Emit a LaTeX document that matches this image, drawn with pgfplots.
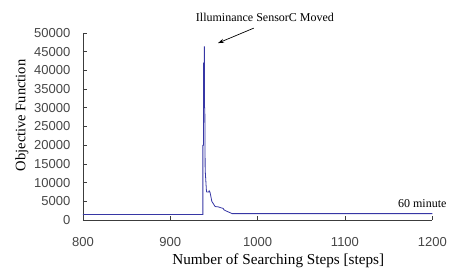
\documentclass[border=0pt]{standalone}
\usepackage{fontspec}
\setmainfont{Liberation Serif}
\newfontfamily\tickfont{Liberation Sans}
\usepackage{pgfplots}
\pgfplotsset{compat=1.18}
\usetikzlibrary{arrows.meta}
\definecolor{linecol}{RGB}{55,55,165}
\definecolor{axcol}{RGB}{60,60,60}
\definecolor{tickcol}{RGB}{70,70,70}
\begin{document}
\begin{tikzpicture}
\useasboundingbox (-83pt,-50pt) rectangle (376pt,220pt);
\begin{axis}[
  scale only axis=true,
  width=349.3pt, height=187pt,
  xmin=800, xmax=1200, ymin=0, ymax=50000,
  axis lines*=left,
  axis line style={axcol, line width=0.7pt},
  tick align=inside,
  major tick length=4pt,
  tick style={axcol, line width=0.7pt},
  xtick={800,900,1000,1100,1200},
  ytick={0,5000,10000,15000,20000,25000,30000,35000,40000,45000,50000},
  scaled y ticks=false, scaled x ticks=false,
  /pgf/number format/set thousands separator={},
  /pgf/number format/assume math mode=true,
  tick label style={font=\tickfont\fontsize{13}{13}\selectfont, text=tickcol, inner sep=0pt},
  yticklabel style={xshift=-12.5pt},
  xticklabel style={yshift=-17pt},
  xlabel={Number of Searching Steps [steps]},
  ylabel={Objective Function},
  x label style={font=\fontsize{15.2}{17}\selectfont, at={(axis description cs:0.559,-0.24)}, anchor=base},
  y label style={font=\fontsize{14.5}{16}\selectfont, at={(axis description cs:-0.175,0.56)}, anchor=center},
  clip=false,
]
\addplot[linecol, line width=0.8pt] coordinates {
(800,1450) (937.3,1450) (937.3,20000) (938,20000) (938,42000) (938.8,42000)
(938.8,46300) (939.2,46300) (939.2,30000) (939.5,30000) (939.9,13400) (941.3,8000)
(941.6,7500) (944,7500) (944.5,7800) (945.5,7400) (947.5,5000) (951.3,3600)
(955,3500) (957.5,3300) (960.5,3100) (961.5,2700) (965,2300) (968,2000)
(970.8,1700) (1200,1700)
};
\node[font=\fontsize{12}{14}\selectfont, anchor=base] at (axis cs:1008.4,52950) {Illuminance SensorC Moved};
\draw[-{Stealth[length=6pt,width=4pt]}, line width=0.7pt, black] (axis cs:995.5,51300) -- (axis cs:954.6,47300);
\node[font=\fontsize{12}{14}\selectfont, anchor=base west, inner sep=0pt] at (axis cs:1160.6,3400) {60 minute};
\end{axis}
\end{tikzpicture}
\end{document}
